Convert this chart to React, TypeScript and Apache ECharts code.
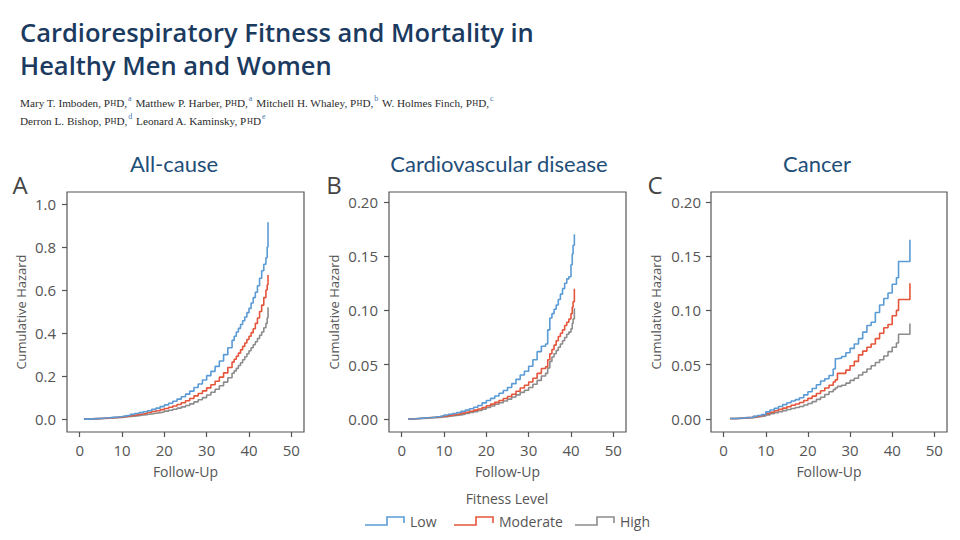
import React, { useEffect, useRef } from "react";
import * as echarts from "echarts";

// ---- All-cause mortality (panel A) ----
const allCauseTime = [
  1, 2, 3, 4, 5, 6, 7, 8, 9, 10, 11, 12, 13, 14, 15, 16, 17, 18, 19, 20, 21, 22,
  23, 24, 25, 26, 27, 28, 29, 30, 31, 32, 33, 34, 35, 36, 36.5, 37, 37.5, 38,
  38.5, 39, 39.5, 40, 40.5, 41, 41.5, 42, 42.5, 43, 43.5, 44, 44.3, 44.5,
];
const allCauseLow = [
  0, 0.001, 0.002, 0.003, 0.005, 0.006, 0.008, 0.01, 0.012, 0.015, 0.018, 0.022,
  0.026, 0.03, 0.034, 0.039, 0.045, 0.051, 0.058, 0.066, 0.074, 0.083, 0.093,
  0.104, 0.116, 0.13, 0.147, 0.163, 0.182, 0.202, 0.222, 0.245, 0.27, 0.3, 0.332,
  0.366, 0.385, 0.405, 0.422, 0.44, 0.457, 0.475, 0.495, 0.515, 0.54, 0.565,
  0.59, 0.62, 0.655, 0.69, 0.72, 0.75, 0.8, 0.915,
];
const allCauseModerate = [
  0, 0.001, 0.002, 0.003, 0.004, 0.005, 0.007, 0.008, 0.01, 0.012, 0.015, 0.018,
  0.021, 0.024, 0.027, 0.031, 0.035, 0.039, 0.044, 0.049, 0.055, 0.061, 0.068,
  0.076, 0.085, 0.096, 0.108, 0.119, 0.131, 0.145, 0.16, 0.176, 0.195, 0.215,
  0.24, 0.265, 0.278, 0.292, 0.307, 0.322, 0.338, 0.354, 0.37, 0.385, 0.402,
  0.42, 0.445, 0.47, 0.5, 0.53, 0.565, 0.6, 0.625, 0.67,
];
const allCauseHigh = [
  0, 0.0005, 0.001, 0.002, 0.003, 0.004, 0.005, 0.006, 0.008, 0.01, 0.012, 0.014,
  0.016, 0.019, 0.021, 0.024, 0.027, 0.03, 0.033, 0.037, 0.041, 0.046, 0.051,
  0.057, 0.063, 0.071, 0.08, 0.09, 0.1, 0.112, 0.125, 0.139, 0.155, 0.172, 0.192,
  0.213, 0.224, 0.236, 0.249, 0.262, 0.276, 0.29, 0.304, 0.318, 0.332, 0.346,
  0.36, 0.375, 0.39, 0.405, 0.425, 0.445, 0.47, 0.52,
];

// ---- Cardiovascular disease mortality (panel B) ----
const cvdTime = [
  1.5, 2, 3, 4, 5, 6, 7, 8, 9, 10, 11, 12, 13, 14, 15, 16, 17, 18, 19, 20, 21,
  22, 23, 24, 25, 26, 27, 28, 29, 30, 31, 32, 33, 34, 34.5, 35, 35.5, 36, 36.5,
  37, 37.5, 38, 38.5, 39, 39.5, 40, 40.3, 40.5, 40.8,
];
const cvdLow = [
  0, 0.0002, 0.0005, 0.0008, 0.0011, 0.0014, 0.0018, 0.0023, 0.0029, 0.0036,
  0.0043, 0.0051, 0.006, 0.007, 0.0081, 0.0094, 0.0108, 0.0124, 0.0148, 0.017,
  0.019, 0.0212, 0.0237, 0.0262, 0.029, 0.0325, 0.0365, 0.0405, 0.044, 0.0485,
  0.0545, 0.062, 0.067, 0.069, 0.082, 0.093, 0.097, 0.101, 0.105, 0.11, 0.115,
  0.12, 0.125, 0.129, 0.131, 0.142, 0.152, 0.16, 0.17,
];
const cvdModerate = [
  0, 0.0002, 0.0004, 0.0007, 0.001, 0.0013, 0.0016, 0.002, 0.0025, 0.003,
  0.0035, 0.0041, 0.0047, 0.0054, 0.0062, 0.0071, 0.0081, 0.0092, 0.0106,
  0.0122, 0.0137, 0.0153, 0.017, 0.0188, 0.0207, 0.0228, 0.0255, 0.0285, 0.031,
  0.034, 0.0375, 0.042, 0.0465, 0.048, 0.0545, 0.06, 0.064, 0.068, 0.072, 0.076,
  0.079, 0.082, 0.086, 0.089, 0.092, 0.097, 0.103, 0.108, 0.12,
];
const cvdHigh = [
  0, 0.0001, 0.0003, 0.0005, 0.0007, 0.0009, 0.0012, 0.0015, 0.0018, 0.0022,
  0.0027, 0.0032, 0.0038, 0.0044, 0.0051, 0.0059, 0.0068, 0.0078, 0.0091,
  0.0106, 0.012, 0.0135, 0.015, 0.0166, 0.0183, 0.0202, 0.0222, 0.0245, 0.0265,
  0.029, 0.032, 0.0355, 0.0395, 0.042, 0.047, 0.053, 0.057, 0.06, 0.063, 0.066,
  0.069, 0.072, 0.075, 0.078, 0.08, 0.083, 0.088, 0.092, 0.102,
];

// ---- Cancer mortality (panel C) ----
const cancerTime = [
  1.5, 3, 5, 7, 8, 9, 10, 11, 12, 13, 14, 15, 16, 17, 18, 19, 20, 21, 22, 23, 24,
  25, 26, 26.5, 27, 28, 29, 30, 31, 32, 33, 34, 35, 36, 37, 38, 39, 40, 41, 41.5,
  44.2,
];
const cancerLow = [
  0.0005, 0.001, 0.0016, 0.0025, 0.0032, 0.004, 0.0065, 0.0082, 0.0098, 0.0115,
  0.0132, 0.015, 0.0165, 0.0178, 0.0195, 0.0222, 0.025, 0.028, 0.0315, 0.035,
  0.037, 0.04, 0.046, 0.0555, 0.056, 0.0575, 0.061, 0.065, 0.069, 0.074, 0.08,
  0.086, 0.089, 0.098, 0.105, 0.111, 0.116, 0.124, 0.13, 0.145, 0.165,
];
const cancerModerate = [
  0.0005, 0.001, 0.0015, 0.0023, 0.0028, 0.0035, 0.005, 0.0062, 0.0075, 0.0088,
  0.01, 0.0113, 0.0126, 0.0138, 0.0152, 0.017, 0.019, 0.021, 0.0235, 0.026,
  0.0285, 0.031, 0.034, 0.036, 0.042, 0.042, 0.045, 0.049, 0.053, 0.059, 0.0625,
  0.066, 0.069, 0.074, 0.079, 0.084, 0.087, 0.095, 0.1, 0.11, 0.125,
];
const cancerHigh = [
  0.0003, 0.0007, 0.0011, 0.0017, 0.0022, 0.0027, 0.0038, 0.0048, 0.0058,
  0.0067, 0.0077, 0.0087, 0.0097, 0.0105, 0.0115, 0.0128, 0.0142, 0.016, 0.018,
  0.02, 0.0225, 0.025, 0.027, 0.0285, 0.03, 0.031, 0.033, 0.0355, 0.0375, 0.0405,
  0.043, 0.046, 0.049, 0.052, 0.0545, 0.058, 0.062, 0.066, 0.07, 0.078, 0.088,
];

const fitnessLevels = ["Low", "Moderate", "High"];
const levelColors = ["#5b9bd5", "#e5553b", "#8c8c8c"];
const panelTitles = ["All-cause", "Cardiovascular disease", "Cancer"];
const panelLetters = ["A", "B", "C"];
const followUpTicks = [0, 10, 20, 30, 40, 50];
const allCauseTicks = [0, 0.2, 0.4, 0.6, 0.8, 1.0];
const causeSpecificTicks = [0, 0.05, 0.1, 0.15, 0.2];

const panels = [
  {
    time: allCauseTime,
    values: [allCauseLow, allCauseModerate, allCauseHigh],
    yTicks: allCauseTicks,
    yMin: -0.06,
    yMax: 1.056,
    digits: 1,
  },
  {
    time: cvdTime,
    values: [cvdLow, cvdModerate, cvdHigh],
    yTicks: causeSpecificTicks,
    yMin: -0.012,
    yMax: 0.209,
    digits: 2,
  },
  {
    time: cancerTime,
    values: [cancerLow, cancerModerate, cancerHigh],
    yTicks: causeSpecificTicks,
    yMin: -0.012,
    yMax: 0.209,
    digits: 2,
  },
];

const SANS = "'Open Sans', sans-serif";
const SERIF = "'Liberation Serif', serif";
const AXIS_GREY = "#555";

const gridBoxes = [
  { left: 67, top: 192, width: 237, height: 240, titleX: 174, letterX: 20, labelMargin: 11, nameGap: 40 },
  { left: 389, top: 192, width: 237, height: 240, titleX: 499, letterX: 334, labelMargin: 11, nameGap: 49 },
  { left: 711, top: 192, width: 236, height: 240, titleX: 817, letterX: 655, labelMargin: 10, nameGap: 49 },
];

function buildOption() {
  const grid = gridBoxes.map((g) => ({
    left: g.left,
    top: g.top,
    width: g.width,
    height: g.height,
    show: true,
    borderColor: AXIS_GREY,
    borderWidth: 1.2,
    backgroundColor: "transparent",
  }));

  const xAxis = gridBoxes.map((g, i) => ({
    type: "value",
    gridIndex: i,
    min: -3,
    max: 53,
    splitLine: { show: false },
    axisLine: { show: false, onZero: false },
    axisTick: {
      show: true,
      length: 5,
      customValues: followUpTicks,
      lineStyle: { color: AXIS_GREY, width: 1.2 },
    },
    axisLabel: {
      customValues: followUpTicks,
      color: AXIS_GREY,
      fontSize: 15,
      fontFamily: SANS,
      margin: 10,
    },
    name: "Follow-Up",
    nameLocation: "middle",
    nameGap: 32,
    nameTextStyle: { color: AXIS_GREY, fontSize: 14, fontFamily: SANS },
  }));

  const yAxis = panels.map((p, i) => ({
    type: "value",
    gridIndex: i,
    min: p.yMin,
    max: p.yMax,
    splitLine: { show: false },
    axisLine: { show: false, onZero: false },
    axisTick: {
      show: true,
      length: 5,
      customValues: p.yTicks,
      lineStyle: { color: AXIS_GREY, width: 1.2 },
    },
    axisLabel: {
      customValues: p.yTicks,
      color: AXIS_GREY,
      fontSize: 15,
      fontFamily: SANS,
      margin: gridBoxes[i].labelMargin,
      formatter: (v: number) => v.toFixed(p.digits),
    },
    name: "Cumulative Hazard",
    nameLocation: "middle",
    nameGap: gridBoxes[i].nameGap,
    nameTextStyle: { color: AXIS_GREY, fontSize: 13, fontFamily: SANS },
  }));

  const series: any[] = [];
  panels.forEach((p, i) => {
    p.values.forEach((vals, k) => {
      series.push({
        name: fitnessLevels[k],
        type: "line",
        xAxisIndex: i,
        yAxisIndex: i,
        step: "end",
        showSymbol: false,
        z: 10 - k,
        lineStyle: { color: levelColors[k], width: 1.6 },
        itemStyle: { color: levelColors[k] },
        data: p.time.map((t, j) => [t, vals[j]]),
      });
    });
  });

  const graphic: any[] = [];

  // Heading and author line
  graphic.push({
    type: "text",
    left: 20,
    top: 15,
    style: {
      text: "Cardiorespiratory Fitness and Mortality in\nHealthy Men and Women",
      fill: "#1b3a5f",
      font: `600 25.5px ${SANS}`,
      lineHeight: 33,
    },
  });

  const sup = (s: string) => `{sup|${s}}`;
  const phd = "P{sc|H}D";
  graphic.push({
    type: "text",
    left: 20,
    top: 94,
    style: {
      text:
        `Mary T. Imboden, ${phd},${sup("a")} Matthew P. Harber, ${phd},${sup("a")} Mitchell H. Whaley, ${phd},${sup("b")} W. Holmes Finch, ${phd},${sup("c")}\n` +
        `Derron L. Bishop, ${phd},${sup("d")} Leonard A. Kaminsky, ${phd}${sup("e")}`,
      fill: "#2b2b2b",
      font: `11.2px ${SERIF}`,
      lineHeight: 18,
      rich: {
        sup: {
          fill: "#4a78ad",
          font: `8px ${SERIF}`,
          verticalAlign: "top",
          lineHeight: 18,
          padding: [0, 1, 5, 1],
        },
        sc: {
          fill: "#2b2b2b",
          font: `8.3px ${SERIF}`,
          lineHeight: 18,
        },
      },
    },
  });

  // Panel titles and letters
  gridBoxes.forEach((g, i) => {
    graphic.push({
      type: "text",
      x: g.titleX,
      y: 163,
      style: {
        text: panelTitles[i],
        fill: "#1f4e79",
        font: "22px Lato, sans-serif",
        align: "center",
        verticalAlign: "middle",
      },
    });
    graphic.push({
      type: "text",
      x: g.letterX,
      y: 184,
      style: {
        text: panelLetters[i],
        fill: "#444",
        font: `24px ${SANS}`,
        align: "center",
        verticalAlign: "middle",
      },
    });
  });

  // Shared key
  graphic.push({
    type: "text",
    x: 507,
    y: 498,
    style: {
      text: "Fitness Level",
      fill: AXIS_GREY,
      font: `14px ${SANS}`,
      align: "center",
      verticalAlign: "middle",
    },
  });
  const keyStarts = [365, 454, 575];
  fitnessLevels.forEach((lvl, k) => {
    const x0 = keyStarts[k];
    graphic.push({
      type: "polyline",
      shape: {
        points: [
          [x0, 525],
          [x0 + 22, 525],
          [x0 + 22, 517],
          [x0 + 39, 517],
          [x0 + 39, 523],
        ],
      },
      style: { stroke: levelColors[k], lineWidth: 1.6, fill: "none" },
    });
    graphic.push({
      type: "text",
      x: x0 + 45,
      y: 521,
      style: {
        text: lvl,
        fill: AXIS_GREY,
        font: `14px ${SANS}`,
        align: "left",
        verticalAlign: "middle",
      },
    });
  });

  return {
    animation: false,
    backgroundColor: "#ffffff",
    grid,
    xAxis,
    yAxis,
    series,
    graphic,
  };
}

export default function App() {
  const ref = useRef<HTMLDivElement>(null);

  useEffect(() => {
    if (!ref.current) return;
    const chart = echarts.init(ref.current, undefined, { renderer: "svg" });
    chart.setOption(buildOption() as any);
    return () => chart.dispose();
  }, []);

  return (
    <div
      ref={ref}
      style={{ position: "fixed", left: 0, top: 0, width: 960, height: 540, background: "#fff" }}
    />
  );
}
